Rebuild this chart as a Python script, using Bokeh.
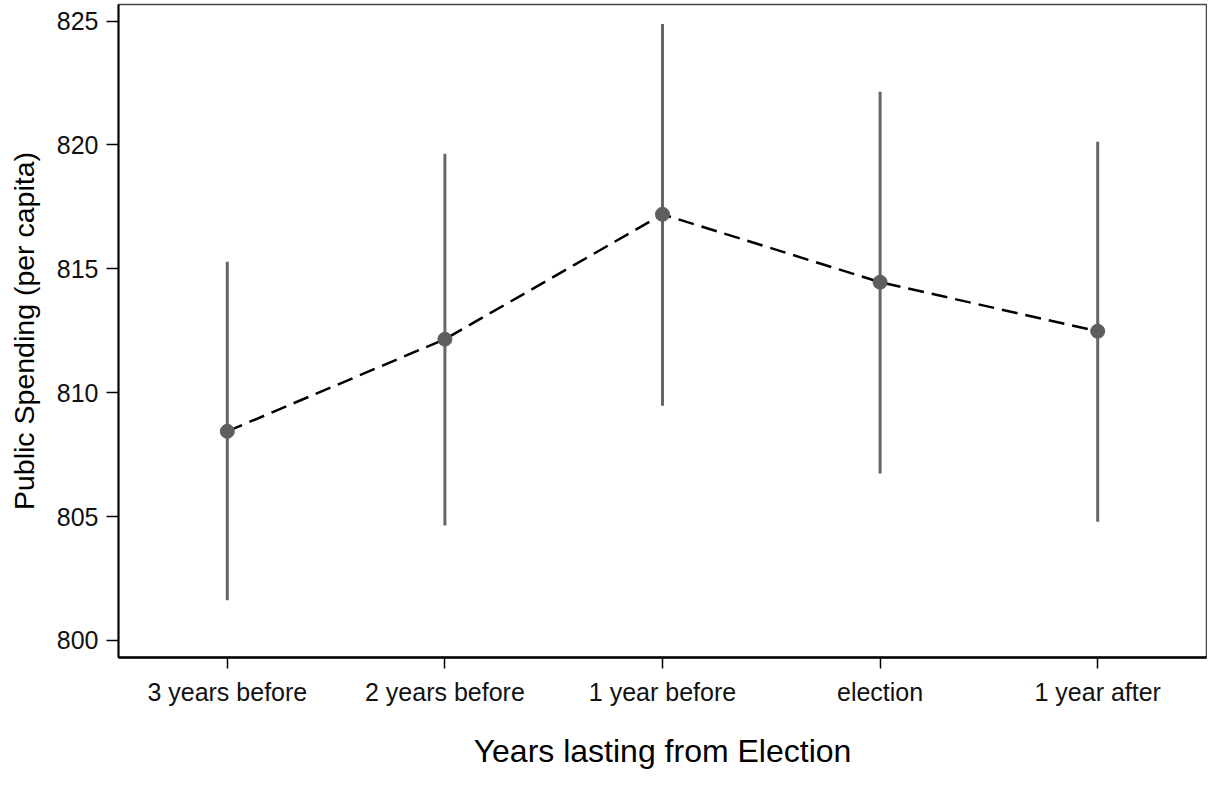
from bokeh.plotting import figure
from bokeh.models import ColumnDataSource, FactorRange, Range1d, FixedTicker
from bokeh.embed import file_html
from bokeh.resources import INLINE

categories = ["3 years before", "2 years before", "1 year before", "election", "1 year after"]
means = [808.44, 812.16, 817.20, 814.46, 812.48]
upper = [815.29, 819.65, 824.88, 822.15, 820.13]
lower = [801.62, 804.64, 809.47, 806.74, 804.79]
y_ticks = [800, 805, 810, 815, 820, 825]

FONT = "Liberation Sans"

src = ColumnDataSource(dict(cat=categories, mean=means, up=upper, lo=lower))

p = figure(
    x_range=FactorRange(*categories),
    y_range=Range1d(799.31, 825.67),
    width=1207, height=771,
    output_backend="svg", toolbar_location=None,
    min_border_left=118, min_border_right=1, min_border_top=4, min_border_bottom=111,
)
p.background_fill_color = "white"
p.border_fill_color = "white"
p.xgrid.visible = False
p.ygrid.visible = False
p.outline_line_color = "#444444"
p.outline_line_width = 1.5

p.segment(x0="cat", y0="lo", x1="cat", y1="up", source=src,
          line_color="#666666", line_width=3)
p.line(x="cat", y="mean", source=src, line_color="black", line_width=2.5,
       line_dash="16 8")
p.scatter(x="cat", y="mean", source=src, size=14, fill_color="#5e5e5e",
          line_color="#5e5e5e")

# y axis
ya = p.yaxis[0]
ya.ticker = FixedTicker(ticks=y_ticks)
ya.axis_label = "Public Spending (per capita)"
ya.axis_label_text_font = FONT
ya.axis_label_text_font_size = "28.5px"
ya.axis_label_text_font_style = "normal"
ya.axis_label_text_color = "#000000"
ya.axis_label_standoff = 14
ya.major_label_text_font = FONT
ya.major_label_text_font_size = "25px"
ya.major_label_text_color = "#111111"
ya.major_label_standoff = 8
ya.major_tick_out = 12
ya.major_tick_in = 0
ya.minor_tick_out = 0
ya.minor_tick_in = 0
ya.major_tick_line_color = "black"
ya.major_tick_line_width = 1.5
ya.axis_line_color = "black"
ya.axis_line_width = 2

# x axis
xa = p.xaxis[0]
xa.axis_label = "Years lasting from Election"
xa.axis_label_text_font = FONT
xa.axis_label_text_font_size = "32px"
xa.axis_label_text_font_style = "normal"
xa.axis_label_text_color = "#000000"
xa.axis_label_standoff = 24
xa.major_label_text_font = FONT
xa.major_label_text_font_size = "25px"
xa.major_label_text_color = "#111111"
xa.major_label_standoff = 9
xa.major_tick_out = 11
xa.major_tick_in = 0
xa.major_tick_line_color = "black"
xa.major_tick_line_width = 1.5
xa.axis_line_color = "black"
xa.axis_line_width = 2.5

open("out.html", "w").write(file_html(p, INLINE))
